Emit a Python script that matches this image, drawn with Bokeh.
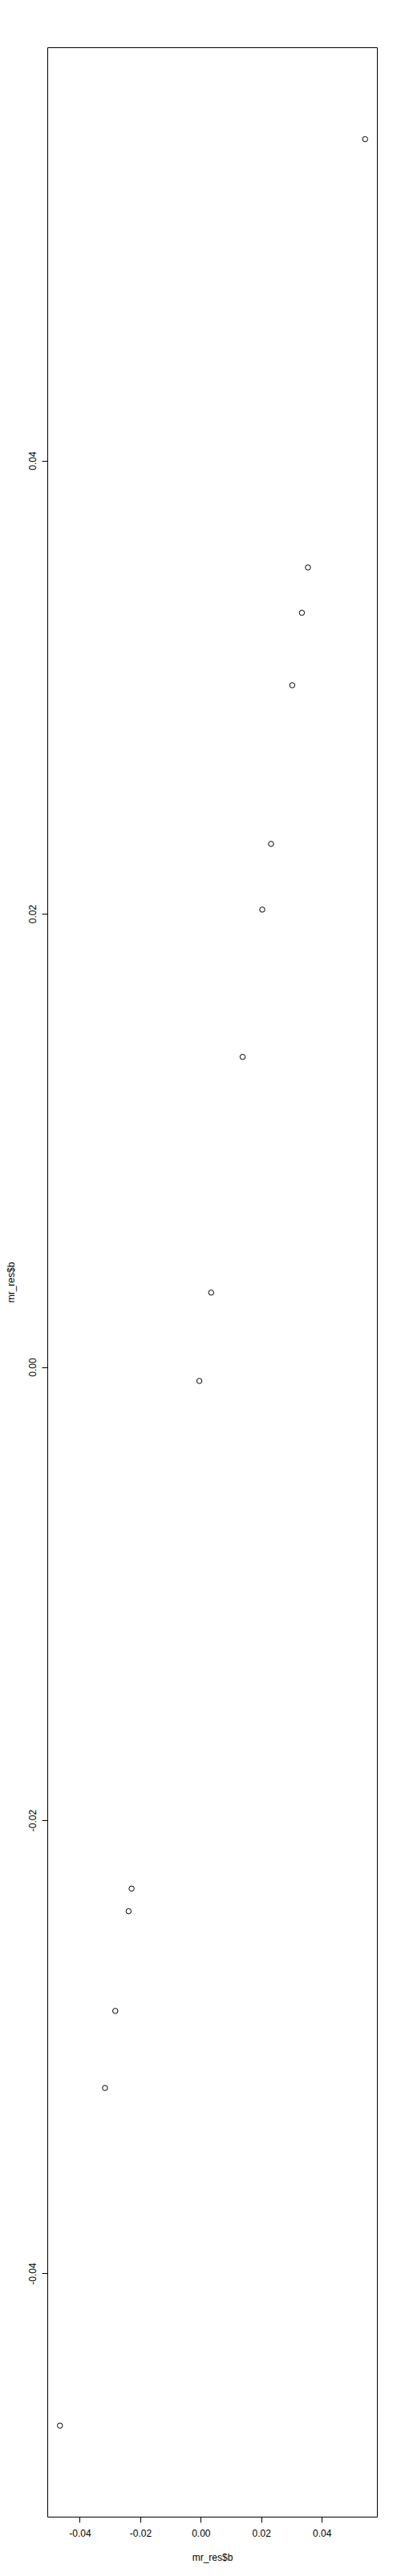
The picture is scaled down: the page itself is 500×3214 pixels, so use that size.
from bokeh.plotting import figure
from bokeh.models import Range1d, FixedTicker, PrintfTickFormatter, ColumnDataSource
from bokeh.embed import file_html
from bokeh.resources import INLINE

# Data: mr_res$b plotted against itself
b_x = [0.0542, 0.0353, 0.0333, 0.0301, 0.0231, 0.0202, 0.0137, 0.0033,
       -0.0006, -0.0230, -0.0240, -0.0284, -0.0318, -0.0467]
b_y = list(b_x)
tick_values = [-0.04, -0.02, 0.00, 0.02, 0.04]
x_label = "mr_res$b"
y_label = "mr_res$b"

def r_range(v):
    lo, hi = min(v), max(v)
    pad = 0.04 * (hi - lo)
    return lo - pad, hi + pad

xr = r_range(b_x)
yr = r_range(b_y)

p = figure(width=500, height=3206, output_backend="svg", toolbar_location=None,
           x_range=Range1d(*xr), y_range=Range1d(*yr),
           min_border_left=59, min_border_top=59, min_border_right=30, min_border_bottom=66)
p.title.visible = False
p.xgrid.visible = False
p.ygrid.visible = False
p.outline_line_color = "black"
p.outline_line_width = 1
p.background_fill_color = "white"
p.border_fill_color = "white"

src = ColumnDataSource(dict(x=b_x, y=b_y))
p.scatter("x", "y", source=src, marker="circle", size=6.5, fill_color=None,
          line_color="black", line_width=1)

font = "Liberation Sans"
for ax in (p.xaxis[0], p.yaxis[0]):
    ax.ticker = FixedTicker(ticks=tick_values)
    ax.formatter = PrintfTickFormatter(format="%.2f")
    ax.bounds = (tick_values[0], tick_values[-1])
    ax.minor_tick_line_color = None
    ax.major_tick_in = 0
    ax.major_tick_out = 7
    ax.major_tick_line_color = "black"
    ax.axis_line_color = "black"
    ax.major_label_text_font = font
    ax.major_label_text_font_size = "12px"
    ax.major_label_text_color = "black"
    ax.axis_label_text_font = font
    ax.axis_label_text_font_size = "12px"
    ax.axis_label_text_font_style = "normal"
    ax.axis_label_text_color = "black"

p.xaxis[0].axis_label = x_label
p.yaxis[0].axis_label = y_label
p.xaxis[0].major_label_standoff = 8
p.xaxis[0].axis_label_standoff = 16
p.yaxis[0].major_label_orientation = "vertical"
p.yaxis[0].major_label_standoff = 7
p.yaxis[0].axis_label_standoff = 13

open("out.html", "w").write(file_html(p, INLINE))
